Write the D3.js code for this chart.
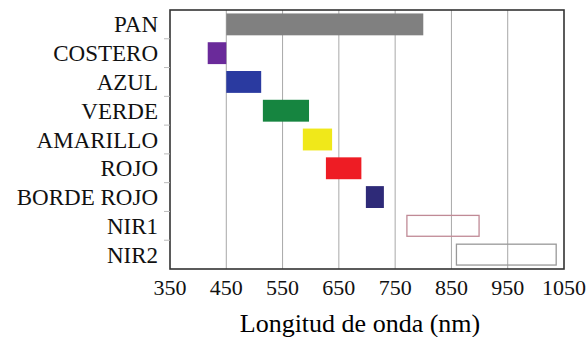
<!DOCTYPE html>
<html>
<head>
<meta charset="utf-8">
<script src="https://cdn.jsdelivr.net/npm/d3@7"></script>
<style>
  body { margin: 0; background: #fff; }
</style>
</head>
<body>
<div id="chart"></div>
<script>
// Bands (nm)
const bands = ["PAN", "COSTERO", "AZUL", "VERDE", "AMARILLO", "ROJO", "BORDE ROJO", "NIR1", "NIR2"];
const starts = [450, 417, 450, 515, 586, 627, 698, 770, 858];
const ends = [800, 450, 512, 597, 638, 690, 730, 900, 1037];
const fills = ["#808080", "#6a2a9a", "#2a3aa0", "#168540", "#f0e81a", "#ee1c24", "#2e2a78", "none", "none"];
const strokes = ["none", "none", "none", "none", "none", "none", "none", "#c08a96", "#999999"];
const xTicks = [350, 450, 550, 650, 750, 850, 950, 1050];
const xTitle = "Longitud de onda (nm)";

const width = 587, height = 337;
const margin = { top: 10, right: 23, bottom: 68, left: 170 };
const serif = "'Liberation Serif', 'Times New Roman', Times, 'DejaVu Serif', serif";

const svg = d3.select("#chart")
  .append("svg")
  .attr("width", width)
  .attr("height", height)
  .attr("font-family", serif)
  .style("font-family", serif);

const x = d3.scaleLinear()
  .domain([350, 1050])
  .range([margin.left, width - margin.right]);

const y = d3.scaleBand()
  .domain(bands)
  .range([margin.top, height - margin.bottom])
  .paddingInner(0.24)
  .paddingOuter(0.12);

// vertical gridlines
svg.selectAll("line.grid")
  .data(xTicks.slice(1, -1))
  .enter()
  .append("line")
  .attr("class", "grid")
  .attr("x1", d => x(d))
  .attr("x2", d => x(d))
  .attr("y1", margin.top)
  .attr("y2", height - margin.bottom)
  .attr("stroke", "#a8a8a8")
  .attr("stroke-width", 1);

// bars (NIR bands are drawn as outlines only)
svg.selectAll("rect.bar")
  .data(bands)
  .enter()
  .append("rect")
  .attr("class", "bar")
  .attr("x", (d, i) => x(starts[i]) + (strokes[i] === "none" ? 0 : 0.5))
  .attr("y", d => y(d) + (d.startsWith("NIR") ? 0.5 : 0))
  .attr("width", (d, i) => x(ends[i]) - x(starts[i]) - (strokes[i] === "none" ? 0 : 1))
  .attr("height", d => y.bandwidth() - (d.startsWith("NIR") ? 1 : 0))
  .attr("fill", (d, i) => fills[i])
  .attr("stroke", (d, i) => strokes[i])
  .attr("stroke-width", 1.3);

// frame
svg.append("rect")
  .attr("x", margin.left)
  .attr("y", margin.top)
  .attr("width", width - margin.left - margin.right)
  .attr("height", height - margin.top - margin.bottom)
  .attr("fill", "none")
  .attr("stroke", "#333")
  .attr("stroke-width", 1.6);

// small ticks between categories on the left
const step = y.step();
svg.selectAll("line.ytick")
  .data(d3.range(1, bands.length))
  .enter()
  .append("line")
  .attr("class", "ytick")
  .attr("x1", margin.left - 6)
  .attr("x2", margin.left)
  .attr("y1", k => margin.top + k * step)
  .attr("y2", k => margin.top + k * step)
  .attr("stroke", "#bbb")
  .attr("stroke-width", 1);

// category labels
svg.selectAll("text.cat")
  .data(bands)
  .enter()
  .append("text")
  .attr("class", "cat")
  .attr("x", margin.left - 12)
  .attr("y", d => y(d) + y.bandwidth() / 2 + 8)
  .attr("text-anchor", "end")
  .attr("font-size", "23px")
  .attr("fill", "#111")
  .text(d => d);

// x tick labels
svg.selectAll("text.xtick")
  .data(xTicks)
  .enter()
  .append("text")
  .attr("class", "xtick")
  .attr("x", d => x(d))
  .attr("y", height - margin.bottom + 26)
  .attr("text-anchor", "middle")
  .attr("font-size", "22px")
  .attr("fill", "#111")
  .text(d => d);

// axis title
svg.append("text")
  .attr("x", (x(350) + x(1050)) / 2 - 7)
  .attr("y", height - 5)
  .attr("text-anchor", "middle")
  .attr("font-size", "26px")
  .attr("fill", "#000")
  .text(xTitle);
</script>
</body>
</html>
